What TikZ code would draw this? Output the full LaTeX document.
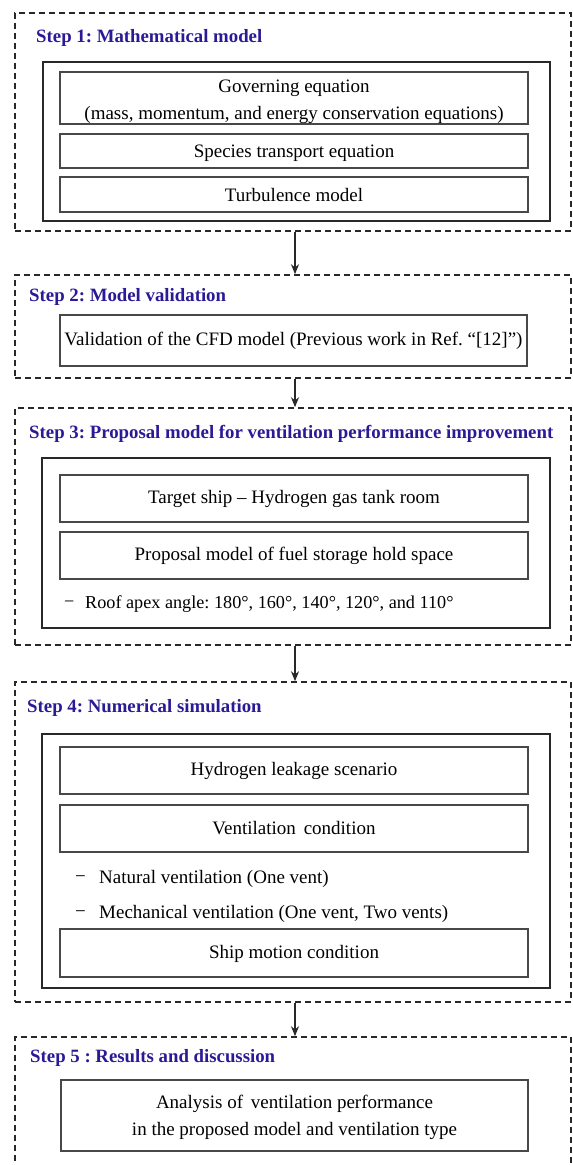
\documentclass[tikz,border=0pt]{standalone}
\usepackage{fontspec}
\setmainfont{Liberation Serif}
\usetikzlibrary{arrows.meta}
\definecolor{stepblue}{RGB}{43,26,150}
\definecolor{lineC}{RGB}{40,40,40}
\begin{document}
\frenchspacing
\begin{tikzpicture}[x=1pt,y=-1pt,
  stepframe/.style={draw=lineC, line width=1.6pt, dash pattern=on 6pt off 4pt, inner sep=0pt},
  groupbox/.style={draw=lineC, line width=1.5pt, inner sep=0pt},
  itembox/.style={draw=lineC!85, line width=1.3pt, inner sep=0pt, align=center,
    font=\fontsize{19}{27}\selectfont},
  plain/.style={inner sep=0pt, anchor=west, font=\fontsize{19}{22}\selectfont},
  title/.style={anchor=west, text=stepblue, font=\bfseries\fontsize{18.8}{22}\selectfont, inner sep=0pt},
  flow/.style={-{Stealth[length=10pt,width=8pt]}, line width=1.2pt, draw=lineC}]
\path[use as bounding box, clip] (0,0) rectangle (573,1165);
\fill[white] (0,0) rectangle (573,1165);

% ---------- Step 1
\node[stepframe, minimum width=556pt, minimum height=218pt] (s1) at (293,122) {};
\node[title] (t1) at (36,38) {Step 1: Mathematical model};
\node[groupbox, minimum width=507pt, minimum height=159pt] (g1) at (296.5,141.5) {};
\node[itembox, minimum width=468pt, minimum height=52pt] (gov) at (294,98)
  {\rule{0pt}{21pt}Governing equation\\(mass, momentum, and energy conservation equations)};
\node[itembox, minimum width=468pt, minimum height=34pt] (spe) at (294,151) {\rule{0pt}{17pt}Species transport equation};
\node[itembox, minimum width=468pt, minimum height=35pt] (tur) at (294,194.5) {Turbulence model};

% ---------- Step 2
\node[stepframe, minimum width=556pt, minimum height=103pt] (s2) at (293,326.5) {};
\node[title] (t2) at (29,297) {Step 2: Model validation};
\node[itembox, minimum width=467pt, minimum height=51pt] (val) at (293.5,340.5)
  {Validation of the CFD model (Previous work in Ref. “[12]”)};

% ---------- Step 3
\node[stepframe, minimum width=556pt, minimum height=237pt] (s3) at (293,526.5) {};
\node[title] (t3) at (29,434) {Step 3: Proposal model for ventilation performance improvement};
\node[groupbox, minimum width=508pt, minimum height=170pt] (g3) at (296,543) {};
\node[itembox, minimum width=468pt, minimum height=47pt] (tar) at (294,498.5) {Target ship – Hydrogen gas tank room};
\node[itembox, minimum width=468pt, minimum height=47pt] (pro) at (294,555.5) {Proposal model of fuel storage hold space};
\node[plain, font=\fontsize{18.2}{22}\selectfont] (roofd) at (64,604) {−};
\node[plain, font=\fontsize{18.2}{22}\selectfont] (roof) at (85,604) {Roof apex angle: 180°, 160°, 140°, 120°, and 110°};

% ---------- Step 4
\node[stepframe, minimum width=556pt, minimum height=320pt] (s4) at (293,842) {};
\node[title] (t4) at (27,708) {Step 4: Numerical simulation};
\node[groupbox, minimum width=508pt, minimum height=254pt] (g4) at (296,861) {};
\node[itembox, minimum width=468pt, minimum height=47pt] (hyd) at (294,770.5) {Hydrogen leakage scenario};
\node[itembox, minimum width=468pt, minimum height=47pt] (ven) at (294,828.5) {Ventilation\, condition};
\node[plain] (natd) at (75,879) {−};
\node[plain] (nat) at (99,879) {Natural ventilation (One vent)};
\node[plain] (mecd) at (75,914) {−};
\node[plain] (mec) at (99,914) {Mechanical ventilation (One vent, Two vents)};
\node[itembox, minimum width=468pt, minimum height=48pt] (shp) at (294,953) {\rule{0pt}{15pt}Ship motion condition};

% ---------- Step 5
\node[stepframe, minimum width=556pt, minimum height=160pt] (s5) at (293,1117) {};
\node[title] (t5) at (30,1058) {Step 5 : Results and discussion};
\node[itembox, minimum width=467pt, minimum height=71pt] (ana) at (294.5,1115.5)
  {\rule{0pt}{17pt}Analysis of\, ventilation performance\\in the proposed model and ventilation type};

% ---------- arrows
\draw[flow] ([xshift=2pt]s1.south) -- ([xshift=2pt]s2.north);
\draw[flow] ([xshift=2pt]s2.south) -- ([xshift=2pt]s3.north);
\draw[flow] ([xshift=2pt]s3.south) -- ([xshift=2pt]s4.north);
\draw[flow] ([xshift=2pt]s4.south) -- ([xshift=2pt]s5.north);
\end{tikzpicture}
\end{document}
